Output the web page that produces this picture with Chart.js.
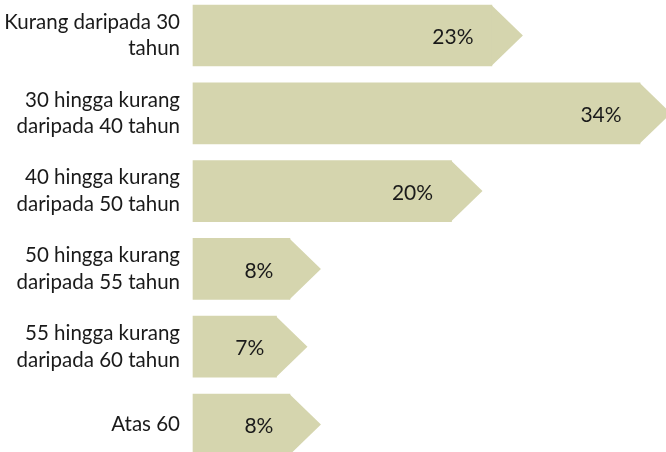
<!DOCTYPE html>
<html>
<head>
<meta charset="utf-8">
<script src="https://cdn.jsdelivr.net/npm/chart.js@4"></script>
<style>
  body { margin: 0; background: #fff; }
</style>
</head>
<body>
<canvas id="chart" width="666" height="452"></canvas>
<script>
const categories = [
  ['Kurang daripada 30', 'tahun'],
  ['30 hingga kurang', 'daripada 40 tahun'],
  ['40 hingga kurang', 'daripada 50 tahun'],
  ['50 hingga kurang', 'daripada 55 tahun'],
  ['55 hingga kurang', 'daripada 60 tahun'],
  'Atas 60'
];
const values = [23, 34, 20, 8, 7, 8];
const valueLabels = ['23%', '34%', '20%', '8%', '7%', '8%'];

const barColor = '#d5d5ae';
const arrowDepth = 31;

// draws the chevron tip on each bar and the value inside it
const arrowPlugin = {
  id: 'arrows',
  afterDatasetsDraw(chart) {
    const ctx = chart.ctx;
    const meta = chart.getDatasetMeta(0);
    ctx.save();
    meta.data.forEach((bar, i) => {
      const h = bar.height;
      ctx.fillStyle = barColor;
      ctx.beginPath();
      ctx.moveTo(bar.x - 0.5, bar.y - h / 2);
      ctx.lineTo(bar.x + arrowDepth, bar.y);
      ctx.lineTo(bar.x - 0.5, bar.y + h / 2);
      ctx.closePath();
      ctx.fill();

      const len = bar.x - bar.base;
      const cx = bar.x - Math.min(39, 0.32 * len);
      ctx.fillStyle = '#1a1a1a';
      ctx.font = '21px Lato';
      ctx.textAlign = 'center';
      ctx.textBaseline = 'middle';
      ctx.fillText(valueLabels[i], cx, bar.y + 2);
    });
    ctx.restore();
  }
};

new Chart(document.getElementById('chart'), {
  type: 'bar',
  data: {
    labels: categories,
    datasets: [{
      data: values,
      base: 0.8,
      backgroundColor: barColor,
      borderWidth: 0,
      barThickness: 61,
      clip: false
    }]
  },
  options: {
    indexAxis: 'y',
    responsive: false,
    animation: false,
    layout: { padding: { top: 35.5, bottom: 27.5, left: 0, right: 26 } },
    plugins: {
      legend: { display: false },
      tooltip: { enabled: false }
    },
    scales: {
      x: {
        display: false,
        min: 0.8,
        max: 34
      },
      y: {
        offset: false,
        grid: { display: false, drawTicks: false },
        border: { display: false },
        ticks: {
          color: '#1a1a1a',
          padding: 13,
          font: { family: 'Lato', size: 20.5, lineHeight: 1.3 }
        },
        afterFit(scale) {
          scale.width = 193;
          scale.paddingTop = 0;
          scale.paddingBottom = 0;
        }
      }
    }
  },
  plugins: [arrowPlugin]
});
</script>
</body>
</html>
